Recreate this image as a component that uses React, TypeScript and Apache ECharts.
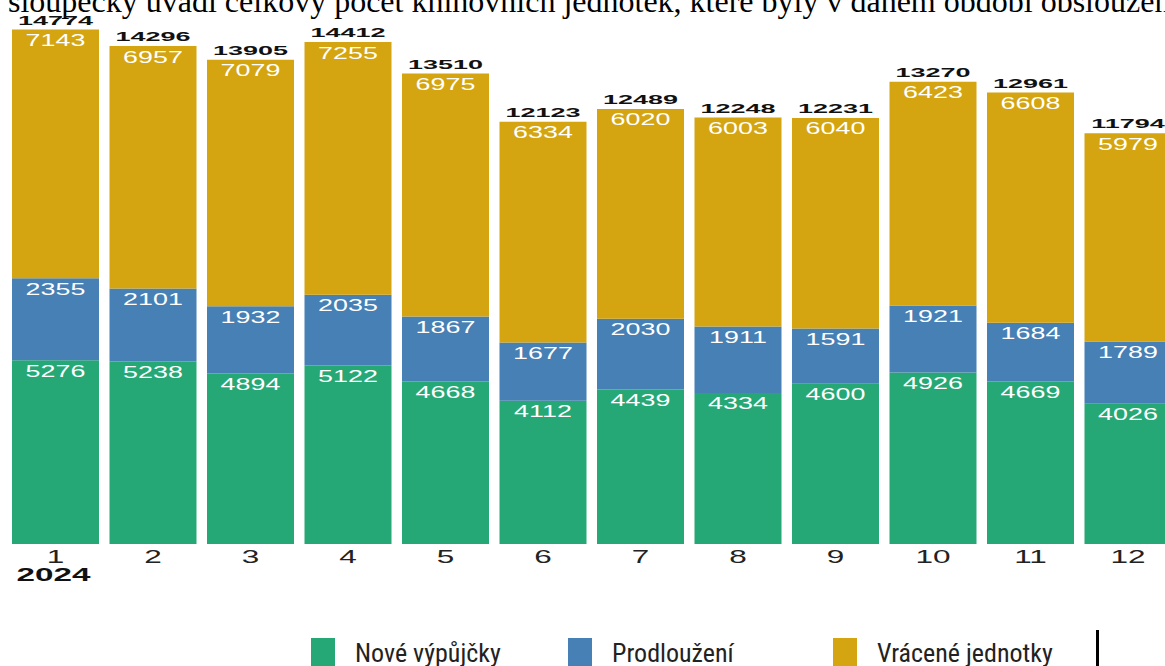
import React, { useEffect, useRef } from "react";
import * as echarts from "echarts";

const categories = ["1", "2", "3", "4", "5", "6", "7", "8", "9", "10", "11", "12"];
const yearLabel = "2024";
const newLoans = [5276, 5238, 4894, 5122, 4668, 4112, 4439, 4334, 4600, 4926, 4669, 4026];
const renewals = [2355, 2101, 1932, 2035, 1867, 1677, 2030, 1911, 1591, 1921, 1684, 1789];
const returned = [7143, 6957, 7079, 7255, 6975, 6334, 6020, 6003, 6040, 6423, 6608, 5979];
const seriesNames = ["Nové výpůjčky", "Prodloužení", "Vrácené jednotky"];
const headerText =
  "sloupečky uvádí celkový počet knihovních jednotek, které byly v daném období obsloužen";

const GREEN = "#26A876";
const BLUE = "#4680B4";
const YELLOW = "#D4A510";

export default function App() {
  const ref = useRef<HTMLDivElement>(null);

  useEffect(() => {
    if (!ref.current) return;
    const chart = echarts.init(ref.current, null, { renderer: "svg" });

    const labelData = categories.map((c, i) => [i, newLoans[i], renewals[i], returned[i]]);

    const renderLabels = (params: any, api: any) => {
      const i = params.dataIndex;
      const g = api.value(1) as number;
      const b = api.value(2) as number;
      const r = api.value(3) as number;
      const base = api.coord([i, 0]);
      const cx = base[0];
      const y0 = base[1];
      const yG = api.coord([i, g])[1];
      const yB = api.coord([i, g + b])[1];
      const yR = api.coord([i, g + b + r])[1];
      const inner = (val: number, top: number) => ({
        type: "text",
        x: cx,
        y: top + 11,
        scaleX: 1.68,
        style: {
          text: String(val),
          fill: "#ffffff",
          fontSize: 16,
          fontFamily: "Liberation Sans",
          align: "center",
          verticalAlign: "middle",
        },
      });
      const children: any[] = [
        inner(g, yG),
        inner(b, yB),
        inner(r, yR),
        {
          type: "text",
          x: cx,
          y: yR - 9.2,
          scaleX: 2.0,
          style: {
            text: String(g + b + r),
            fill: "#111111",
            fontSize: 13.5,
            fontWeight: "bold",
            fontFamily: "Liberation Sans",
            align: "center",
            verticalAlign: "middle",
          },
        },
        {
          type: "text",
          x: cx,
          y: y0 + 12.5,
          scaleX: 1.8,
          style: {
            text: categories[i],
            fill: "#222222",
            fontSize: 17.5,
            fontFamily: "Liberation Sans",
            align: "center",
            verticalAlign: "middle",
          },
        },
      ];
      if (i === 0) {
        children.push({
          type: "text",
          x: cx - 2,
          y: y0 + 31.5,
          scaleX: 1.9,
          style: {
            text: yearLabel,
            fill: "#111111",
            fontSize: 17.5,
            fontWeight: "bold",
            fontFamily: "Liberation Sans",
            align: "center",
            verticalAlign: "middle",
          },
        });
      }
      return { type: "group", children };
    };

    const legendText = {
      fontSize: 26,
      color: "#222222",
      fontFamily: "'Liberation Sans Narrow', 'Roboto Condensed', Roboto, sans-serif",
      padding: [0, 0, 0, 15],
    };
    const legendBase = {
      top: 638,
      padding: 0,
      itemWidth: 24,
      itemHeight: 30,
      icon: "rect",
      selectedMode: false,
      textStyle: legendText,
    };

    chart.setOption({
      animation: false,
      backgroundColor: "#ffffff",
      grid: {
        left: 6.75,
        width: 1170,
        top: 21.6,
        height: 522.4,
        containLabel: false,
        outerBoundsMode: "none",
      },
      xAxis: {
        type: "category",
        data: categories,
        axisLine: { show: false },
        axisTick: { show: false },
        axisLabel: { show: false },
      },
      yAxis: {
        type: "value",
        min: 0,
        max: 15000,
        show: false,
        splitLine: { show: false },
      },
      legend: [
        { ...legendBase, left: 311, data: [seriesNames[0]] },
        { ...legendBase, left: 568, data: [seriesNames[1]] },
        { ...legendBase, left: 833, data: [seriesNames[2]] },
      ],
      graphic: [
        {
          type: "text",
          x: 8,
          y: 1,
          style: {
            text: headerText,
            fill: "#000000",
            fontSize: 32,
            fontFamily: "Liberation Serif",
            align: "left",
            verticalAlign: "middle",
          },
        },
        {
          type: "rect",
          x: 1096,
          y: 630,
          shape: { width: 3, height: 40 },
          style: { fill: "#000000" },
        },
      ],
      series: [
        {
          name: seriesNames[0],
          type: "bar",
          stack: "total",
          barWidth: 87,
          itemStyle: { color: GREEN },
          data: newLoans,
        },
        {
          name: seriesNames[1],
          type: "bar",
          stack: "total",
          barWidth: 87,
          itemStyle: { color: BLUE },
          data: renewals,
        },
        {
          name: seriesNames[2],
          type: "bar",
          stack: "total",
          barWidth: 87,
          itemStyle: { color: YELLOW },
          data: returned,
        },
        {
          name: "labels",
          type: "custom",
          renderItem: renderLabels,
          data: labelData,
          encode: { x: 0, y: 3 },
          silent: true,
          z: 10,
        },
      ],
    });

    return () => chart.dispose();
  }, []);

  return (
    <div
      ref={ref}
      style={{ position: "fixed", left: 0, top: 0, width: 1165, height: 666, background: "#fff" }}
    />
  );
}
